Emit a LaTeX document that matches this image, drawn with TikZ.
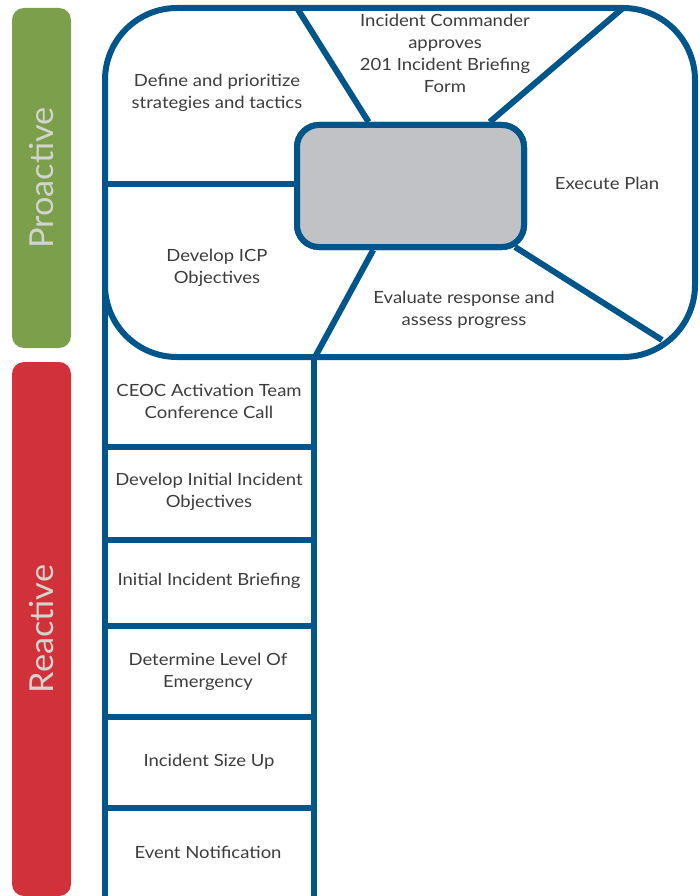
\documentclass[tikz,border=0pt]{standalone}
\usepackage{fontspec}
\setmainfont{Lato}
\newfontfamily\bodyfont[FakeStretch=1.1]{Lato}
\newfontfamily\barfont[FakeStretch=1.04]{Lato}
\usetikzlibrary{calc}
\definecolor{frame}{HTML}{00558A}
\definecolor{hubgray}{HTML}{C1C2C5}
\definecolor{progreen}{HTML}{7B9F4A}
\definecolor{rered}{HTML}{D13138}
\definecolor{ink}{HTML}{3C3C3C}
\definecolor{barink}{HTML}{D2D4D0}
\tikzset{
  border/.style={draw=frame, line width=6pt},
  label/.style={text=ink, align=center, font=\bodyfont\fontsize{16.8}{22}\selectfont, inner sep=0pt},
  sidebar/.style={rotate=90, rounded corners=12pt, minimum height=59pt, inner sep=0pt,
    text=barink, font=\barfont\fontsize{33}{33}\selectfont},
  hubbox/.style={draw=frame, line width=6pt, fill=hubgray, rounded corners=22pt,
    minimum width=227pt, minimum height=122pt},
}
\begin{document}
\begin{tikzpicture}[x=1pt,y=-1pt]
\useasboundingbox (0,0) rectangle (700,896);

% phase bars
\node (pro) [sidebar, fill=progreen, minimum width=340pt] at (41.5,178) {Proactive};
\node (rea) [sidebar, fill=rered, minimum width=534pt] at (41.5,629) {Reactive};

% outer ends of the spokes
\coordinate (sw)  at (105,184);
\coordinate (snw) at (297,8);
\coordinate (sne) at (623,8);
\coordinate (sse) at (662,340);
\coordinate (ss)  at (315,357);

% central hub (placed first so the spokes can refer to it)
\node (hub) [hubbox] at (410.5,186) {};

% spokes
\draw[border] (sw) -- (hub.west |- sw);
\draw[border] (snw) -- ($(hub.north west)!0.32!(hub.north east)$);
\draw[border] (sne) -- ($(hub.north west)!0.84!(hub.north east)$);
\draw[border] (ss) -- ($(hub.south west)!0.34!(hub.south east)$);
\draw[border] (sse) -- ($(hub.south east)+(-12,-3)$);

% planning cycle outline
\draw[border, rounded corners=72pt] (105,8) rectangle (695,357);

% reactive steps column
\draw[border] (105,280) -- (105,900);
\draw[border] (314,357) -- (314,900);
\foreach \y in {447,540,626,717,808}
  \draw[border] (105,\y) -- (314,\y);

% hub drawn again over the spoke ends
\node [hubbox] at (hub) {};

% cycle labels
\node (define) [label] at (217,93) {Define and prioritize\\strategies and tactics};
\node (approve) [label] at (445,53) {Incident Commander\\approves\\201 Incident Briefing\\Form};
\node (execute) [label] at (607,183) {Execute Plan};
\node (icp) [label] at (217,268) {Develop ICP\\Objectives};
\node (evaluate) [label] at (464,310) {Evaluate response and\\assess progress};

% reactive step labels
\node (ceoc) [label] at (209,401) {CEOC Activation Team\\Conference Call};
\node (initobj) [label] at (209,492) {Develop Initial Incident\\Objectives};
\node (brief) [label] at (209,581) {Initial Incident Briefing};
\node (level) [label] at (208,672) {Determine Level Of\\Emergency};
\node (size) [label] at (209,762) {Incident Size Up};
\node (notify) [label] at (208,852) {Event Notification};
\end{tikzpicture}
\end{document}
